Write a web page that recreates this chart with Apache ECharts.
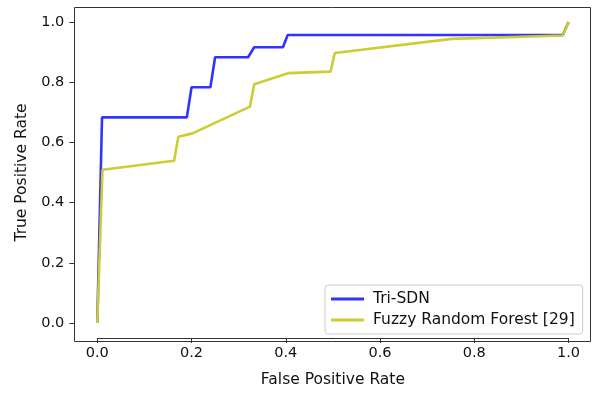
<!DOCTYPE html>
<html>
<head>
<meta charset="utf-8">
<script src="https://cdn.jsdelivr.net/npm/echarts@6/dist/echarts.min.js"></script>
<style>
  html, body {margin: 0; padding: 0; background: #fff;}
  #chart {width: 595px; height: 393px;}
</style>
</head>
<body>
<div id="chart"></div>
<script>
const seriesNames = ["Tri-SDN", "Fuzzy Random Forest [29]"];
const triFpr = [0, 0.01, 0.19, 0.2, 0.24, 0.25, 0.32, 0.333, 0.394, 0.404, 0.988, 1.0];
const triTpr = [0, 0.683, 0.683, 0.783, 0.783, 0.883, 0.883, 0.916, 0.916, 0.957, 0.957, 1.0];
const frfFpr = [0, 0.011, 0.163, 0.172, 0.202, 0.324, 0.333, 0.405, 0.495, 0.504, 0.752, 0.988, 1.0];
const frfTpr = [0, 0.509, 0.539, 0.619, 0.63, 0.719, 0.793, 0.83, 0.835, 0.897, 0.944, 0.955, 1.0];

const pair = (xs, ys) => xs.map((x, i) => [x, ys[i]]);
const font = "DejaVu Sans";
const textColor = "#111";
const spine = "#333";

// the 0..1 data range fills the grid; the axes sit outside it (matplotlib margins)
const axisCommon = {
    type: "value",
    min: 0, max: 1, interval: 0.2,
    nameLocation: "middle",
    nameTextStyle: {fontFamily: font, fontSize: 15.5, color: textColor},
    splitLine: {show: false},
    axisLine: {show: true, onZero: false, lineStyle: {color: spine, width: 1}},
    axisTick: {show: true, inside: false, length: 5, lineStyle: {color: spine, width: 1}},
    axisLabel: {
        fontFamily: font, fontSize: 14.5, color: textColor,
        formatter: v => v.toFixed(1)
    }
};

const myChart = echarts.init(document.getElementById("chart"));
myChart.setOption({
    animation: false,
    grid: {left: 97.3, right: 26.5, top: 22, bottom: 66},
    graphic: [{
        type: "rect",
        shape: {x: 74.5, y: 7.5, width: 516, height: 334},
        style: {fill: null, stroke: spine, lineWidth: 1},
        silent: true,
        z: 10
    }],
    legend: {
        orient: "vertical",
        left: 325, top: 285, width: 258,
        padding: [6, 8, 6, 6],
        itemGap: 5,
        itemWidth: 33, itemHeight: 3,
        icon: "rect",
        borderColor: "#ccc", borderWidth: 1, borderRadius: 3,
        backgroundColor: "#fff",
        textStyle: {fontFamily: font, fontSize: 15.5, color: textColor, padding: [0, 0, 0, 4]},
        data: seriesNames,
        z: 20
    },
    xAxis: Object.assign({}, axisCommon, {
        offset: 15,
        axisLabel: Object.assign({}, axisCommon.axisLabel, {margin: 8}),
        name: "False Positive Rate",
        nameGap: 34
    }),
    yAxis: Object.assign({}, axisCommon, {
        offset: 23,
        axisLabel: Object.assign({}, axisCommon.axisLabel, {margin: 10}),
        name: "True Positive Rate",
        nameGap: 39
    }),
    series: [
        {
            name: seriesNames[0],
            type: "line",
            data: pair(triFpr, triTpr),
            symbol: "none",
            clip: false,
            lineStyle: {width: 2.6},
            color: "#3333ff"
        },
        {
            name: seriesNames[1],
            type: "line",
            data: pair(frfFpr, frfTpr),
            symbol: "none",
            clip: false,
            lineStyle: {width: 2.6},
            color: "#cccc33"
        }
    ]
});
</script>
</body>
</html>
